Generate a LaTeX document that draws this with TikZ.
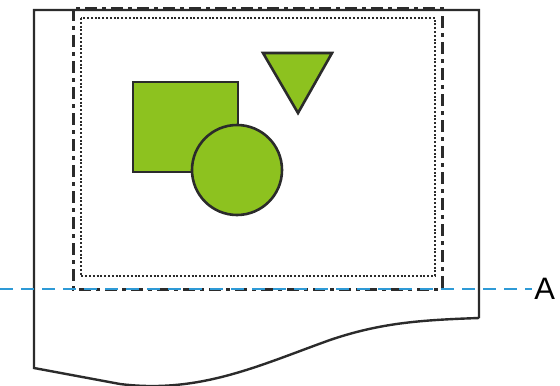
\documentclass[tikz,border=0pt]{standalone}
\usepackage{fontspec}
\setmainfont{Liberation Sans}
\usepackage{tikz}
\usepackage{xcolor}
\usetikzlibrary{arrows.meta, positioning}

\definecolor{figgreen}{HTML}{8DC21F}
\definecolor{edgegray}{HTML}{2B2B2B}
\definecolor{lineblue}{HTML}{2E9AD6}

\begin{document}
\begin{tikzpicture}[x=0.5pt, y=-0.5pt,
    greenfig/.style={fill=figgreen, draw=edgegray, line width=1.3pt},
    paperedge/.style={draw=edgegray, line width=1.2pt},
    printarea/.style={draw=edgegray, line width=1.5pt, dash pattern=on 6pt off 2.5pt on 2pt off 2.5pt},
    marginline/.style={draw=edgegray, line width=1.1pt, dash pattern=on 1pt off 0.9pt},
    cutline/.style={draw=lineblue, line width=1.1pt, dash pattern=on 6.5pt off 4pt}]
    \useasboundingbox (0,0) rectangle (560,385);

    % paper
    \draw[paperedge] (479,318) -- (479,10) -- (34,10) -- (34,368) -- (120,384)
        .. controls (200,394) and (260,365) .. (330,340)
        .. controls (380,323) and (420,320) .. (479,318);

    % print area and margins
    \draw[printarea] (73,9) rectangle (442,289);
    \draw[marginline] (81,18) rectangle (435,276);

    % figures
    \draw[greenfig] (133,82) rectangle (238,172);
    \draw[greenfig] (237,170) circle (45);
    \draw[greenfig] (263,53) -- (332,53) -- (298,113) -- cycle;

    % cut position
    \node[font=\fontsize{15.5}{17}\selectfont, anchor=west, inner sep=0pt] (A) at (534,289) {A};
    \coordinate (cutstart) at (0,289);
    \draw[cutline] (cutstart) -- ([xshift=-1pt]A.west);
\end{tikzpicture}
\end{document}
